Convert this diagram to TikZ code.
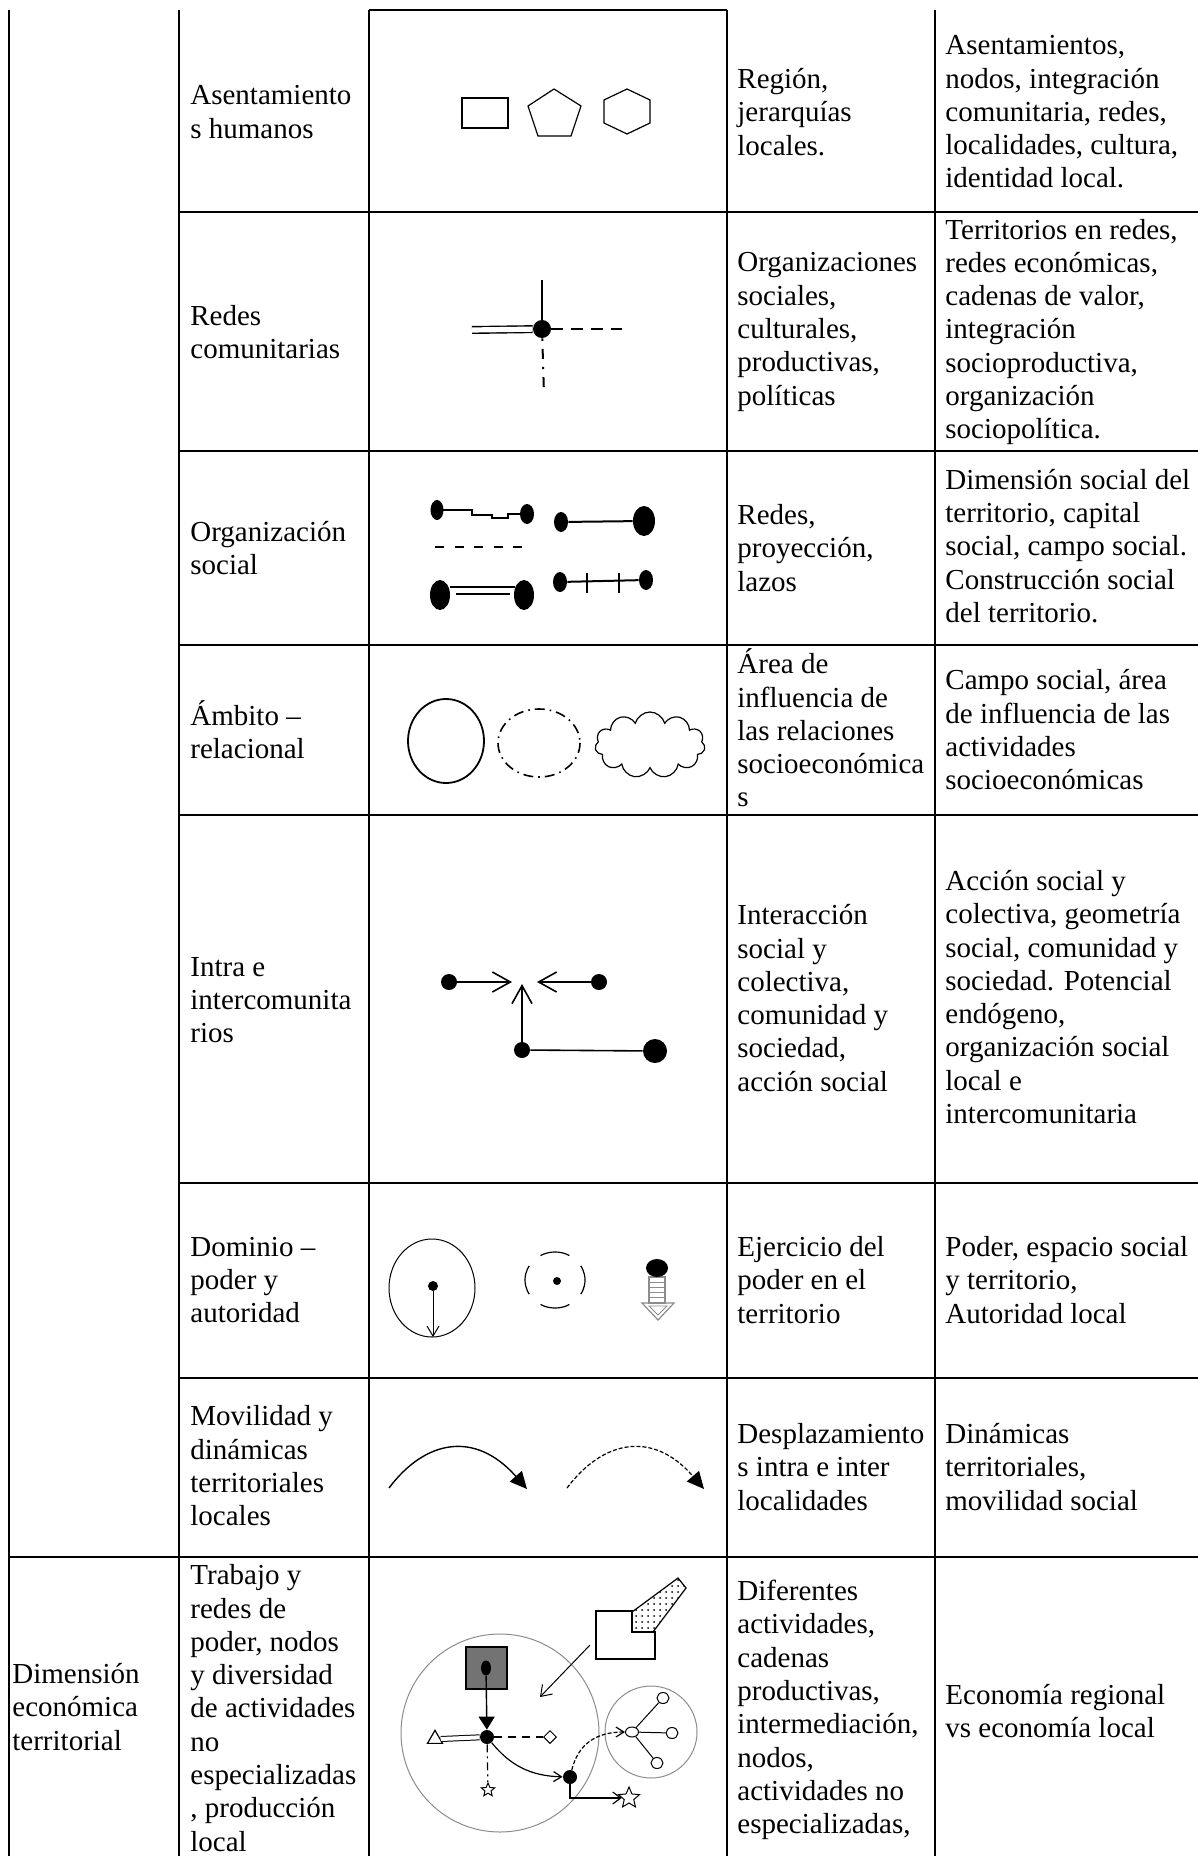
\documentclass[tikz,border=0pt]{standalone}
\usepackage{fontspec}
\setmainfont{Liberation Serif}
\usetikzlibrary{arrows.meta,shapes.geometric,shapes.symbols,patterns}

\begin{document}
\begin{tikzpicture}[x=0.5pt,y=-0.5pt,
  every node/.style={font=\fontsize{14.5pt}{16.65pt}\selectfont},
  cell/.style={anchor=west, align=left, inner sep=0pt},
  grid/.style={line width=1pt},
  sym/.style={line width=0.6pt},
  dot/.style={circle, fill=black, inner sep=0pt, minimum size=#1},
  blob/.style 2 args={ellipse, fill=black, inner sep=0pt, minimum width=#1, minimum height=#2},
  leaf/.style={ellipse, draw, fill=white, line width=0.5pt, inner sep=0pt, minimum width=6pt, minimum height=5.5pt},
  ring/.style={draw=black!45, line width=0.5pt},
  barb/.style={-{Straight Barb[length=9pt,width=10pt]}}]

\useasboundingbox (0,0) rectangle (1198,1856);
\clip (0,0) rectangle (1198,1856);

% table rules
\foreach \x in {9,179,369,727,935}
  \draw[grid] (\x,10) -- (\x,1856);
\draw[grid] (369,10) -- (727,10);
\foreach \y in {212,451,645,815,1183,1378}
  \draw[grid] (179,\y) -- (1198,\y);
\draw[grid] (9,1557) -- (1198,1557);

% row 1
\node[cell] (a1) at (190,112) {Asentamiento\\s humanos};
\node[cell] (c1) at (737,112) {Región,\\jerarquías\\locales.};
\node[cell] (d1) at (945,112) {Asentamientos,\\nodos, integración\\comunitaria, redes,\\localidades, cultura,\\identidad local.};
\draw[sym] (462,98) rectangle (508,128);
\draw[sym] (554,89) -- (581,106) -- (571,136) -- (538,136) -- (528,106) -- cycle;
\draw[sym] (627,89) -- (650,100) -- (650,123) -- (627,134) -- (604,123) -- (604,100) -- cycle;

% row 2
\node[cell] (a2) at (190,332) {Redes\\comunitarias};
\node[cell] (c2) at (737,332) {Organizaciones\\sociales,\\culturales,\\productivas,\\políticas};
\node[cell] (d2) at (945,332) {Territorios en redes,\\redes económicas,\\cadenas de valor,\\integración\\socioproductiva,\\organización\\sociopolítica.};
\coordinate (rup) at (542,280);
\coordinate (rleft) at (472,330);
\coordinate (rright) at (622,329);
\coordinate (rdown) at (544,395);
\node[dot=9pt] (rhub) at (542,329) {};
\draw[line width=1pt] (rhub) -- (rup);
\draw[line width=0.7pt, double, double distance=2.6pt] (rhub) -- (rleft);
\draw[line width=1pt, dash pattern=on 6pt off 4pt] (rhub) -- (rright);
\draw[line width=1pt, dash pattern=on 1.2pt off 4pt on 5pt off 4pt] (rhub) -- (rdown);

% row 3
\node[cell] (a3) at (190,548) {Organización\\social};
\node[cell] (c3) at (737,548) {Redes,\\proyección,\\lazos};
\node[cell] (d3) at (945,546) {Dimensión social del\\territorio, capital\\social, campo social.\\Construcción social\\del territorio.};
\draw[line width=1pt] (437,510) -- (472,510) -- (472,515) -- (492,515) -- (492,518) -- (508,518) -- (508,514) -- (527,514);
\node[blob={6.5pt}{10pt}] (oa) at (437,510) {};
\node[blob={7pt}{10pt}] (ob) at (527,514) {};
\node[blob={7pt}{10pt}] (oc) at (561,522) {};
\node[blob={11pt}{15pt}] (od) at (644,521) {};
\draw[line width=1pt] (oc) -- (od);
\draw[line width=1pt, dash pattern=on 4.5pt off 5.25pt] (435,547) -- (527,547);
\node[blob={10pt}{15pt}] (oe) at (440,595) {};
\node[blob={10pt}{15pt}] (of) at (524,595) {};
\draw[line width=0.8pt] (450,587) -- (515,587);
\draw[line width=0.8pt] (456,594) -- (510,594);
\node[blob={7pt}{10pt}] (og) at (560,582) {};
\node[blob={7pt}{10pt}] (oh) at (646,580) {};
\draw[line width=1pt] (og) -- (oh);
\foreach \x in {587,619}
  \draw[line width=1pt] (\x,573) -- (\x,593);

% row 4
\node[cell] (a4) at (190,730) {Ámbito --\\relacional};
\node[cell] (c4) at (737,728) {Área de\\influencia de\\las relaciones\\socioeconómica\\s};
\node[cell] (d4) at (945,730) {Campo social, área\\de influencia de las\\actividades\\socioeconómicas};
\draw[line width=0.9pt] (446,741) ellipse [x radius=38, y radius=42];
\draw[line width=0.8pt, dash pattern=on 5pt off 2.5pt on 0.8pt off 2.5pt] (539,743) ellipse [x radius=41, y radius=34];
\node[cloud, draw, sym, cloud puffs=11, aspect=1.7, inner sep=0pt, minimum width=55pt, minimum height=33pt] (amb) at (650,745) {};

% row 5
\node[cell] (a5) at (190,1000) {Intra e\\intercomunita\\rios};
\node[cell] (c5) at (737,998) {Interacción\\social y\\colectiva,\\comunidad y\\sociedad,\\acción social};
\node[cell] (d5) at (945,997) {Acción social y\\colectiva, geometría\\social, comunidad y\\sociedad. Potencial\\endógeno,\\organización social\\local e\\intercomunitaria};
\node[dot=8pt] (ia) at (449,982) {};
\node[dot=8pt] (ib) at (599,982) {};
\node[dot=8pt] (ic) at (522,1050) {};
\node[dot=12pt] (id) at (655,1051) {};
\coordinate (ja) at (512,982);
\coordinate (jb) at (537,982);
\coordinate (jc) at (522,984);
\draw[line width=0.8pt, barb] (ia) -- (ja);
\draw[line width=0.8pt, barb] (ib) -- (jb);
\draw[line width=0.8pt, barb] (ic) -- (jc);
\draw[line width=0.8pt] (ic) -- (id);

% row 6
\node[cell] (a6) at (190,1280) {Dominio --\\poder y\\autoridad};
\node[cell] (c6) at (737,1280) {Ejercicio del\\poder en el\\territorio};
\node[cell] (d6) at (945,1280) {Poder, espacio social\\y territorio,\\Autoridad local};
\draw[line width=0.5pt] (432,1288) ellipse [x radius=43, y radius=49];
\node[dot=5pt] (pd) at (433,1286) {};
\coordinate (pb) at (433,1337);
\draw[line width=0.5pt, -{Straight Barb[length=5pt,width=6pt]}] (pd) -- (pb);
\draw[line width=0.6pt, dash pattern=on 15pt off 7.75pt, dash phase=7.5pt] (555,1280) ellipse [x radius=30, y radius=28];
\node[dot=4pt] (pc) at (557,1281) {};
\draw[draw=black!45, line width=0.6pt] (649,1277) rectangle (665,1303);
\foreach \y in {1282,1287,1292,1297}
  \draw[draw=black!45, line width=0.5pt] (649,\y) -- (665,\y);
\draw[draw=black!45, line width=0.6pt] (642,1303) -- (674,1303) -- (658,1320) -- cycle;
\draw[draw=black!45, line width=0.4pt] (649,1306) -- (667,1306) -- (658,1315) -- cycle;
\node[blob={11pt}{9pt}] (pe) at (657,1268) {};

% row 7
\node[cell] (a7) at (190,1466) {Movilidad y\\dinámicas\\territoriales\\locales};
\node[cell] (c7) at (737,1467) {Desplazamiento\\s intra e inter\\localidades};
\node[cell] (d7) at (945,1467) {Dinámicas\\territoriales,\\movilidad social};
\coordinate (ma) at (389,1488);
\coordinate (mb) at (527,1489);
\coordinate (mc) at (567,1488);
\coordinate (md) at (704,1489);
\draw[line width=0.7pt, -{Triangle[length=8.5pt,width=8pt]}] (ma) .. controls (425,1440) and (475,1430) .. (mb);
\draw[line width=0.6pt, dash pattern=on 2pt off 1pt, -{Triangle[length=8.5pt,width=8pt]}] (mc) .. controls (603,1440) and (653,1430) .. (md);

% row 8
\node[cell] (a8) at (12,1707) {Dimensión\\económica\\territorial};
\node[cell] (b8) at (190,1708) {Trabajo y\\redes de\\poder, nodos\\y diversidad\\de actividades\\no\\especializadas\\, producción\\local};
\node[cell] (c8) at (737,1710) {Diferentes\\actividades,\\cadenas\\productivas,\\intermediación,\\nodos,\\actividades no\\especializadas,};
\node[cell] (d8) at (945,1711) {Economía regional\\vs economía local};

\draw[ring] (500,1733) circle [radius=99];
\draw[ring] (651,1732) circle [radius=46];
\draw[line width=0.6pt, fill=black!55] (466,1647) rectangle (507,1689);
\node[blob={5pt}{7.5pt}] (eb) at (486,1668) {};
\node[dot=7pt] (en) at (487,1737) {};
\draw[line width=0.7pt, -{Triangle[length=6.5pt,width=8pt]}] (eb) -- (en);
\node[regular polygon, regular polygon sides=3, draw, fill=white, line width=0.6pt, inner sep=0pt, minimum size=8.7pt] (et) at (435,1739) {};
\draw[line width=0.5pt, double, double distance=2pt] (et.east) -- (en);
\node[diamond, draw, fill=white, line width=0.5pt, inner sep=0pt, minimum size=6.5pt] (ed) at (550,1737) {};
\draw[line width=0.6pt, dash pattern=on 4pt off 3pt] (en) -- (ed);
\node[star, star points=5, star point ratio=2.2, draw, line width=0.5pt, inner sep=0pt, minimum size=7pt] (es) at (488,1790) {};
\draw[line width=0.6pt, dash pattern=on 4pt off 2pt on 1pt off 2pt] (en) -- (es);
\node[dot=7pt] (em) at (570,1777) {};
\draw[line width=0.6pt, -{Straight Barb[length=4pt,width=5pt]}] (en) .. controls (510,1765) and (530,1776) .. (em);
\node[ellipse, draw, fill=white, line width=0.5pt, inner sep=0pt, minimum width=6.5pt, minimum height=5pt] (eh) at (632,1732) {};
\draw[line width=0.6pt, dash pattern=on 2pt off 1pt, -{Straight Barb[length=4pt,width=5pt]}] (em) .. controls (578,1745) and (595,1732) .. (eh);
\node[leaf] (el1) at (663,1698) {};
\node[leaf] (el2) at (672,1733) {};
\node[leaf] (el3) at (657,1763) {};
\foreach \l in {el1,el2,el3}
  \draw[line width=0.5pt] (eh) -- (\l);
\node[star, star points=5, star point ratio=2.2, draw, line width=0.5pt, inner sep=0pt, minimum size=11pt] (es2) at (629,1798) {};
\draw[line width=0.6pt, -{Straight Barb[length=4pt,width=6pt]}] (em) |- (es2);
\draw[line width=0.6pt, pattern=dots] (632,1612) -- (678,1578) -- (686,1588) -- (653,1632) -- (632,1632) -- cycle;
\draw[line width=0.6pt, fill=white] (596,1611) -- (632,1611) -- (632,1632) -- (655,1632) -- (655,1659) -- (596,1659) -- cycle;
\coordinate (eo) at (590,1645);
\coordinate (ea) at (540,1697);
\draw[line width=0.5pt, -{Straight Barb[length=5pt,width=7pt]}] (eo) -- (ea);

\end{tikzpicture}
\end{document}
